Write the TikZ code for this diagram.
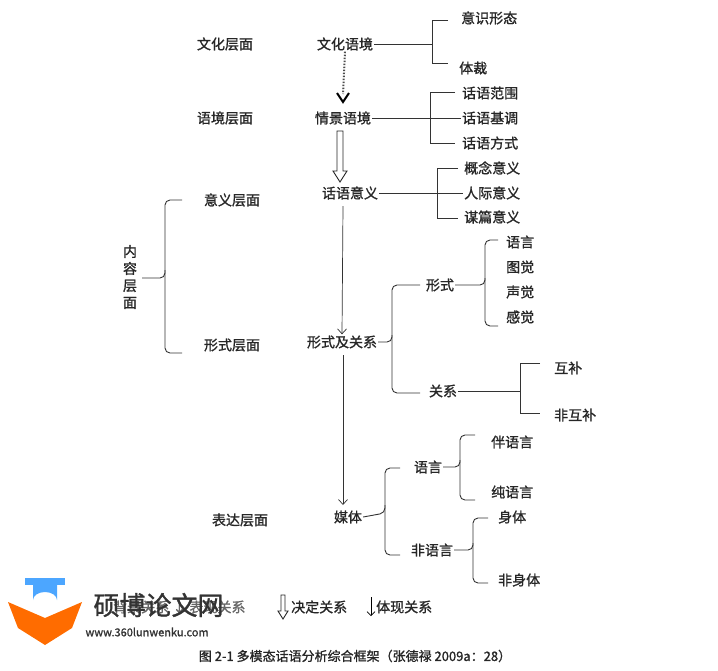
\documentclass[tikz,border=0pt]{standalone}
\usepackage{fontspec}
\setmainfont[FakeBold=1.2]{Noto Sans CJK SC}
\usetikzlibrary{arrows.meta}
\begin{document}
\begin{tikzpicture}[x=1pt,y=-1pt,
  t/.style={inner sep=1pt,font=\fontsize{14}{16}\selectfont,text=black!85},
  ln/.style={draw=black!80,line width=0.9pt},
  br/.style={draw=black!80,line width=0.9pt,rounded corners=5pt},
  hollow/.style={draw=black!85,line width=0.9pt,fill=white}]
\useasboundingbox (0,0) rectangle (718,670);
% top
\node[t] (l1) at (225,44) {文化层面};
\node[t] (a) at (345,44) {文化语境};
\node[t,anchor=west] (a1) at (460,18) {意识形态};
\node[t,anchor=west] (a2) at (458,68) {体裁};
\draw[ln] (a.east) -- (432,44);
\draw[ln] (448,20) -| (432,63) -- (448,63);
\node[t] (l2) at (225,118) {语境层面};
\node[t] (b) at (343,118) {情景语境};
\node[t,anchor=west] (b1) at (461,93) {话语范围};
\node[t,anchor=west] (b2) at (461,118) {话语基调};
\node[t,anchor=west] (b3) at (461,143) {话语方式};
\draw[ln] (b.east) -- (b2.west);
\draw[ln] (455,92) -| (430,143) -- (455,143);
\draw[line width=2pt,dash pattern=on 1.5pt off 1.5pt,black!70] (a.south) -- (343,94);
\draw[line width=2pt,line join=miter] (337,93) -- (343,102) -- (349,93);
\node[t] (c) at (350,193) {话语意义};
\node[t,anchor=west] (c1) at (463,168) {概念意义};
\node[t,anchor=west] (c2) at (463,193) {人际意义};
\node[t,anchor=west] (c3) at (463,217) {谋篇意义};
\draw[ln] (c.east) -- (c2.west);
\draw[ln] (458,168) -| (437,218) -- (458,218);
\draw[hollow] (337,131) -- (343,131) -- (343,171) -- (347,171) -- (340,182) -- (333,171) -- (337,171) -- cycle;
% content
\node[t] (l3) at (232,200) {意义层面};
\node[t] (l4) at (232,345) {形式层面};
\node[t,align=center,font=\fontsize{14}{17}\selectfont] (nr) at (130,277) {内\\容\\层\\面};
\draw[br] (182,200) -- (165,200) -- (165,278) -- (142,278);
\draw[br] (165,270) -- (165,353) -- (182,353);
\node[t] (d) at (342,342) {形式及关系};
\draw[-{Straight Barb[length=5pt,width=9pt]},ln,line width=0.7pt] (343,206) -- (d.north);
\draw[br] (420,285) -- (392,285) -- (392,342) -- (d.east);
\draw[br] (392,335) -- (392,393) -- (420,393);
\node[t] (e) at (440,285) {形式};
\node[t,anchor=west] (e1) at (505,242) {语言};
\node[t,anchor=west] (e2) at (505,267) {图觉};
\node[t,anchor=west] (e3) at (505,292) {声觉};
\node[t,anchor=west] (e4) at (505,317) {感觉};
\draw[br] (498,240) -- (485,240) -- (485,285) -- (e.east);
\draw[br] (485,278) -- (485,326) -- (498,326);
\node[t] (f) at (443,391) {关系};
\node[t,anchor=west] (f1) at (553,368) {互补};
\node[t,anchor=west] (f2) at (553,415) {非互补};
\draw[ln] (f.east) -- (520,391);
\draw[ln] (540,363) -| (520,413) -- (540,413);
% expression
\node[t] (l5) at (240,520) {表达层面};
\node[t] (g) at (348,517) {媒体};
\draw[-{Straight Barb[length=5pt,width=9pt]},ln,line width=0.7pt] (343,355) -- (343,505);
\draw[br] (400,468) -- (385,468) -- (385,513) -- (g.east);
\draw[br] (385,505) -- (385,555) -- (400,555);
\node[t] (h) at (428,467) {语言};
\node[t,anchor=west] (h1) at (490,442) {伴语言};
\node[t,anchor=west] (h2) at (490,492) {纯语言};
\draw[br] (475,435) -- (460,435) -- (460,467) -- (h.east);
\draw[br] (460,460) -- (460,500) -- (475,500);
\node[t] (i) at (432,550) {非语言};
\node[t,anchor=west] (i1) at (497,517) {身体};
\node[t,anchor=west] (i2) at (497,580) {非身体};
\draw[br] (488,518) -- (473,518) -- (473,550) -- (i.east);
\draw[br] (473,543) -- (473,583) -- (488,583);
% legend
\node[t,anchor=west,text=black!60] (lg1) at (112,607) {背景关系 ↓ 表现关系};
\draw[hollow] (281,595) -- (285,595) -- (285,611) -- (288,611) -- (283,619) -- (278,611) -- (281,611) -- cycle;
\node[t,anchor=west] (lg2) at (290,607) {决定关系};
\draw[-{Straight Barb[length=4pt,width=8pt]},line width=0.7pt] (371,597) -- (371,616);
\node[t,anchor=west] (lg3) at (375,607) {体现关系};
% watermark
\fill[orange!85!red] (8,602) -- (45,618) -- (82,602) -- (72,628) -- (45,645) -- (18,628) -- cycle;
\fill[blue!50!cyan!70] (25,578) rectangle (65,585);
\fill[blue!50!cyan!70] (33,585) -- (57,585) -- (57,600) arc (0:-180:12 and 8) -- cycle;
\node[font=\fontsize{26}{28}\selectfont,text=black!80,anchor=west] (wm) at (90,605) {硕博论文网};
\node[font=\fontsize{11}{12}\selectfont,text=black!80,anchor=west] (url) at (82,632) {www.360lunwenku.com};
\node[t,font=\fontsize{13}{15}\selectfont] (cap) at (355,656) {图 2-1 多模态话语分析综合框架（张德禄 2009a：28）};
\end{tikzpicture}
\end{document}
